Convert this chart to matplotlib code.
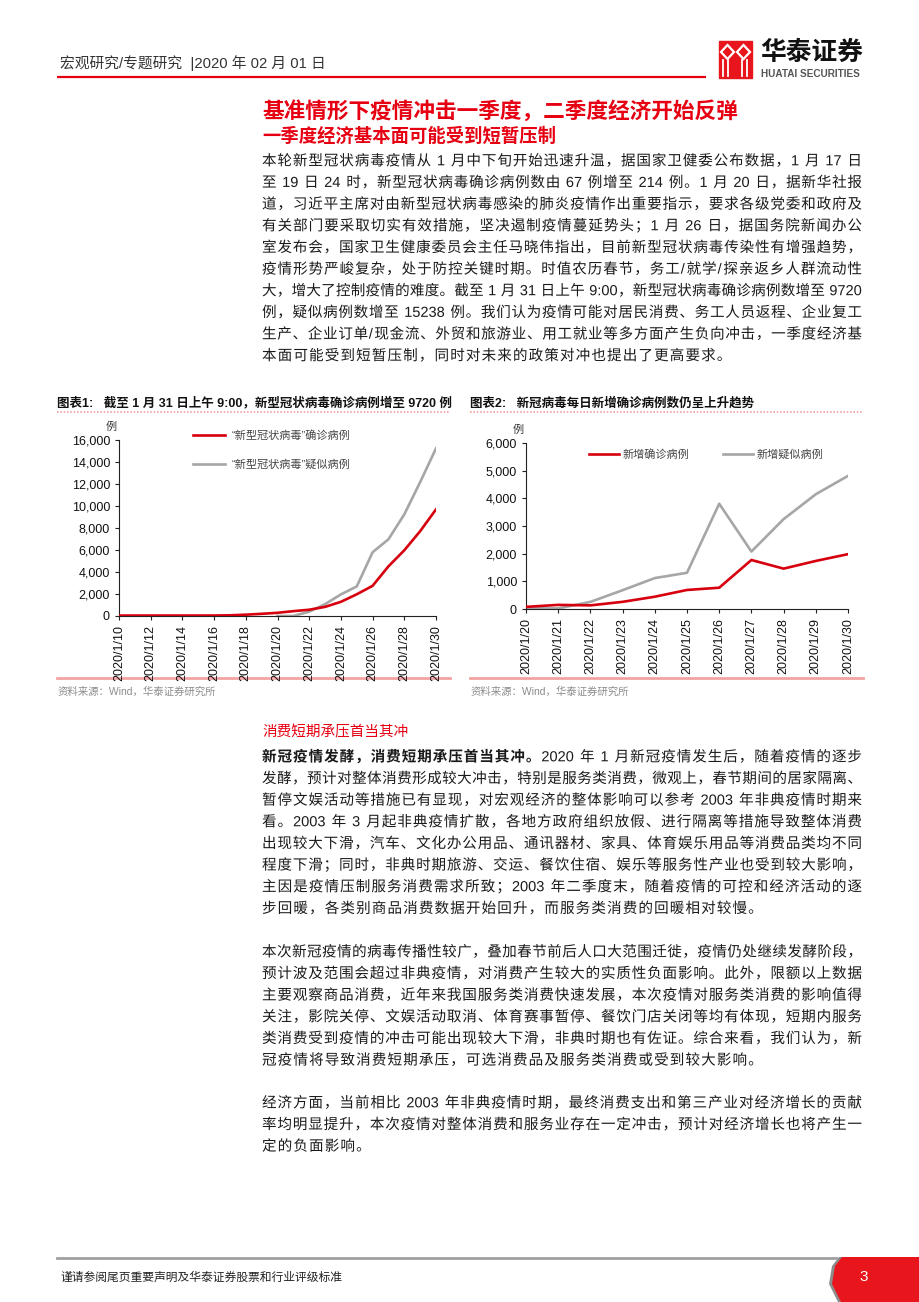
import re
import numpy as np
import matplotlib
matplotlib.use('Agg')
import matplotlib.pyplot as plt
from matplotlib.font_manager import FontProperties
from matplotlib.patches import Rectangle, Polygon, PathPatch
from matplotlib.textpath import TextPath
from matplotlib.transforms import Affine2D
from matplotlib.ticker import FuncFormatter

FAM = ['Liberation Sans', 'Noto Sans CJK SC']
plt.rcParams['font.family'] = FAM

RED = '#E60012'
PINK = '#F3A3A3'
TXT = '#1a1a1a'

# ---- chart data ----
dates1 = [f'2020/1/{d}' for d in range(10, 31)]
confirmed_total = [41, 41, 41, 41, 41, 41, 45, 62, 121, 198, 291, 440, 571, 830,
                   1287, 1975, 2744, 4515, 5974, 7711, 9692]
suspect_total = [np.nan] * 10 + [0, 0, 393, 1072, 1965, 2684, 5794, 6973, 9239,
                                 12167, 15238]

dates2 = [f'2020/1/{d}' for d in range(20, 31)]
new_confirmed = [77, 149, 131, 259, 444, 688, 769, 1771, 1459, 1737, 1982]
new_suspect = [27, 20, 257, 680, 1118, 1309, 3806, 2077, 3248, 4148, 4812]

# ---- page text ----
title_main = '基准情形下疫情冲击一季度，二季度经济开始反弹'
title_sub = '一季度经济基本面可能受到短暂压制'
para1 = [
    '本轮新型冠状病毒疫情从 1 月中下旬开始迅速升温，据国家卫健委公布数据，1 月 17 日',
    '至 19 日 24 时，新型冠状病毒确诊病例数由 67 例增至 214 例。1 月 20 日，据新华社报',
    '道，习近平主席对由新型冠状病毒感染的肺炎疫情作出重要指示，要求各级党委和政府及',
    '有关部门要采取切实有效措施，坚决遏制疫情蔓延势头；1 月 26 日，据国务院新闻办公',
    '室发布会，国家卫生健康委员会主任马晓伟指出，目前新型冠状病毒传染性有增强趋势，',
    '疫情形势严峻复杂，处于防控关键时期。时值农历春节，务工/就学/探亲返乡人群流动性',
    '大，增大了控制疫情的难度。截至 1 月 31 日上午 9:00，新型冠状病毒确诊病例数增至 9720',
    '例，疑似病例数增至 15238 例。我们认为疫情可能对居民消费、务工人员返程、企业复工',
    '生产、企业订单/现金流、外贸和旅游业、用工就业等多方面产生负向冲击，一季度经济基',
    '本面可能受到短暂压制，同时对未来的政策对冲也提出了更高要求。',
]
head2 = '消费短期承压首当其冲'
para2_bold = '新冠疫情发酵，消费短期承压首当其冲。'
para2 = [
    '2020 年 1 月新冠疫情发生后，随着疫情的逐步',
    '发酵，预计对整体消费形成较大冲击，特别是服务类消费，微观上，春节期间的居家隔离、',
    '暂停文娱活动等措施已有显现，对宏观经济的整体影响可以参考 2003 年非典疫情时期来',
    '看。2003 年 3 月起非典疫情扩散，各地方政府组织放假、进行隔离等措施导致整体消费',
    '出现较大下滑，汽车、文化办公用品、通讯器材、家具、体育娱乐用品等消费品类均不同',
    '程度下滑；同时，非典时期旅游、交运、餐饮住宿、娱乐等服务性产业也受到较大影响，',
    '主因是疫情压制服务消费需求所致；2003 年二季度末，随着疫情的可控和经济活动的逐',
    '步回暖，各类别商品消费数据开始回升，而服务类消费的回暖相对较慢。',
]
para3 = [
    '本次新冠疫情的病毒传播性较广，叠加春节前后人口大范围迁徙，疫情仍处继续发酵阶段，',
    '预计波及范围会超过非典疫情，对消费产生较大的实质性负面影响。此外，限额以上数据',
    '主要观察商品消费，近年来我国服务类消费快速发展，本次疫情对服务类消费的影响值得',
    '关注，影院关停、文娱活动取消、体育赛事暂停、餐饮门店关闭等均有体现，短期内服务',
    '类消费受到疫情的冲击可能出现较大下滑，非典时期也有佐证。综合来看，我们认为，新',
    '冠疫情将导致消费短期承压，可选消费品及服务类消费或受到较大影响。',
]
para4 = [
    '经济方面，当前相比 2003 年非典疫情时期，最终消费支出和第三产业对经济增长的贡献',
    '率均明显提升，本次疫情对整体消费和服务业存在一定冲击，预计对经济增长也将产生一',
    '定的负面影响。',
]

fig = plt.figure(figsize=(9.2, 13.02), dpi=100)
bg = fig.add_axes([0, 0, 1, 1], zorder=-1)
bg.set_xlim(0, 920)
bg.set_ylim(1302, 0)
bg.axis('off')

X0, X1 = 262, 862
SIZE = 10.5
EM = SIZE * 100 / 72
STEP = 21.65
TOK = re.compile(r'[A-Za-z0-9:./%]+| |.')
props = {w: FontProperties(family=FAM, weight=w) for w in ('normal', 'bold')}


def glyph_path(s, w):
    return TextPath((0, 0), s, size=EM, prop=props[w])


def draw_line(segs, y, justify=True, track=1.1):
    toks = []
    for s, w in segs:
        toks += [(t, w) for t in TOK.findall(s)]
    paths, widths = [], []
    for t, w in toks:
        if t == ' ':
            paths.append(None)
            widths.append(EM * 0.278)
        else:
            p = glyph_path(t, w)
            paths.append(p)
            if ord(t[0]) > 127:
                widths.append(EM)
            else:
                widths.append(p.get_extents().x1 + 0.8)
    gap = (X1 - X0 - sum(widths)) / (len(toks) - 1) if justify else track
    x = X0
    for p, wd in zip(paths, widths):
        if p is not None:
            tp = Affine2D().scale(1, -1).translate(x, y + 5.3).transform_path(p)
            bg.add_patch(PathPatch(tp, fc=TXT, ec='none', lw=0, snap=False))
        x += wd + gap


def draw_para(lines, y0, first_bold=None):
    for i, ln in enumerate(lines):
        segs = [(ln, 'normal')]
        if i == 0 and first_bold:
            segs = [(first_bold, 'bold'), (ln, 'normal')]
        draw_line(segs, y0 + i * STEP, justify=(i < len(lines) - 1))


# ---- header ----
bg.text(60, 63, '宏观研究/专题研究  |2020 年 02 月 01 日', fontsize=10.6, color='#333',
        ha='left', va='center')
bg.plot([57, 706], [77, 77], color=RED, lw=1.6, solid_capstyle='butt')
bg.add_patch(Rectangle((719, 41), 33, 37, color='#E8161C'))
for cx in (727.5, 743.5):
    bg.add_patch(Polygon([(cx - 6.5, 52), (cx, 45), (cx + 6.5, 52), (cx, 59)],
                         closed=True, fc='none', ec='white', lw=1.6))
for lx in (723.5, 728.5, 742.5, 747.5):
    bg.plot([lx, lx], [60, 76], color='white', lw=1.3)
bg.text(760, 53, '华泰证券', fontsize=18.5, fontweight='bold', color='#111',
        ha='left', va='center')
bg.text(761, 74, 'HUATAI SECURITIES', fontsize=7.2, fontweight='bold', color='#555',
        ha='left', va='center')

# ---- titles and text ----
bg.text(262, 112, title_main, fontsize=15.6, fontweight='bold', color=RED, ha='left', va='center')
bg.text(262, 137, title_sub, fontsize=13.2, fontweight='bold', color=RED, ha='left', va='center')
draw_para(para1, 160)
bg.text(262, 732, head2, fontsize=SIZE, color=RED, ha='left', va='center')
draw_para(para2, 756, first_bold=para2_bold)
draw_para(para3, 951)
draw_para(para4, 1102)

# ---- chart frames ----
for xa, xb, ttl in [(57, 450, '图表1:   截至 1 月 31 日上午 9:00，新型冠状病毒确诊病例增至 9720 例'),
                    (470, 863, '图表2:   新冠病毒每日新增确诊病例数仍呈上升趋势')]:
    bg.text(xa, 403, ttl, fontsize=9, fontweight='bold', color='#111', ha='left', va='center')
    bg.plot([xa, xb], [412, 412], color=PINK, lw=1.2, ls=(0, (1, 1)))
    bg.plot([xa, xb], [678, 678], color=PINK, lw=2)
    bg.text(xa + 1, 692, '资料来源：Wind，华泰证券研究所', fontsize=7.5, color='#8c8c8c',
            ha='left', va='center')

# ---- chart 1 ----
ax1 = fig.add_axes([119 / 920, 1 - 616 / 1302, 317 / 920, 176 / 1302])
x1 = np.arange(len(dates1))
ax1.plot(x1, confirmed_total, color='#D7000F', lw=1.9, label='“新型冠状病毒”确诊病例', zorder=3)
ax1.plot(x1, suspect_total, color='#A6A6A6', lw=1.9, label='“新型冠状病毒”疑似病例', zorder=2)
ax1.set_xlim(0, len(dates1) - 1)
ax1.set_ylim(0, 16000)
ax1.set_yticks(range(0, 16001, 2000))
ax1.set_xticks(x1[::2])
ax1.set_xticklabels(dates1[::2], rotation=90)
bg.text(111, 427, '例', fontsize=8, color='#333', ha='center', va='center')
ax1.legend(loc='upper left', bbox_to_anchor=(193 / 920, 1 - 430 / 1302),
           bbox_transform=fig.transFigure, frameon=False, fontsize=8,
           handlelength=2.9, handletextpad=0.6, labelspacing=1.7, borderpad=0,
           borderaxespad=0, labelcolor='#444')

# ---- chart 2 ----
ax2 = fig.add_axes([526 / 920, 1 - 609 / 1302, 322 / 920, 166 / 1302])
x2 = np.arange(len(dates2))
ax2.plot(x2, new_confirmed, color='#D7000F', lw=1.9, label='新增确诊病例', zorder=3)
ax2.plot(x2, new_suspect, color='#A6A6A6', lw=1.9, label='新增疑似病例', zorder=2)
ax2.set_xlim(0, len(dates2) - 1)
ax2.set_ylim(0, 6000)
ax2.set_yticks(range(0, 6001, 1000))
ax2.set_xticks(x2)
ax2.set_xticklabels(dates2, rotation=90)
bg.text(518, 430, '例', fontsize=8, color='#333', ha='center', va='center')
ax2.legend(loc='upper left', bbox_to_anchor=(589 / 920, 1 - 449 / 1302),
           bbox_transform=fig.transFigure, frameon=False, fontsize=8, ncol=2,
           handlelength=2.7, handletextpad=0.35, columnspacing=3.0, borderpad=0,
           borderaxespad=0, labelcolor='#444')

for ax in (ax1, ax2):
    for s in ('top', 'right'):
        ax.spines[s].set_visible(False)
    for s in ('left', 'bottom'):
        ax.spines[s].set_linewidth(0.8)
        ax.spines[s].set_color('#222')
    ax.tick_params(labelsize=9, length=3, width=0.8, colors='#222', labelcolor='#111')
    ax.yaxis.set_major_formatter(FuncFormatter(lambda v, p: f'{v:,.0f}'))
    ax.set_facecolor('none')

# ---- footer ----
bg.plot([57, 836], [1258, 1258], color='#A0A0A0', lw=2)
bg.text(60, 1278, '谨请参阅尾页重要声明及华泰证券股票和行业评级标准', fontsize=8.5,
        color='#222', ha='left', va='center')
bg.add_patch(Polygon([(839, 1257), (920, 1257), (920, 1302), (838, 1302), (829, 1284),
                      (832, 1266)], closed=True, fc='#8c8c8c', ec='none'))
bg.add_patch(Polygon([(842, 1257), (920, 1257), (920, 1302), (841, 1302), (832, 1284),
                      (835, 1266)], closed=True, fc='#E8161C', ec='none'))
bg.text(864, 1277, '3', fontsize=11, color='white', ha='center', va='center')

fig.savefig('out.png', dpi=100)
